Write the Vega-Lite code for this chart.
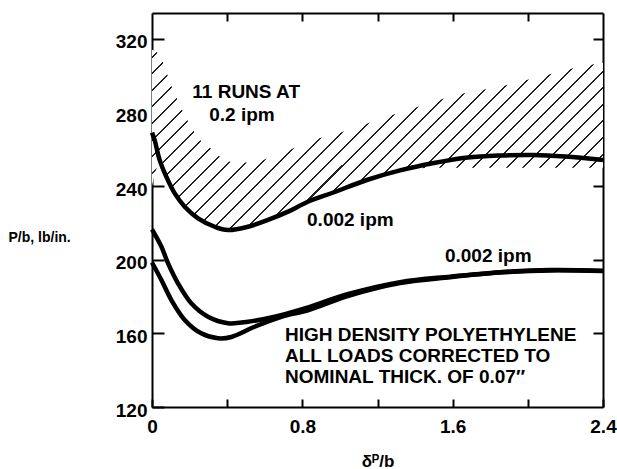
{
  "$schema": "https://vega.github.io/schema/vega-lite/v6.json",
  "width": 451,
  "height": 394,
  "autosize": "none",
  "padding": {"left": 152, "top": 13, "right": 14, "bottom": 62},
  "background": "white",
  "config": {
    "view": {"stroke": null},
    "font": "Liberation Sans",
    "axis": {
      "domainColor": "black", "domainWidth": 2, "tickColor": "black", "tickWidth": 2,
      "grid": false, "labelColor": "black", "labelFont": "Liberation Sans", "labelFontWeight": "bold", "labelFontSize": 19,
      "titleColor": "black", "titleFont": "Liberation Sans", "titleFontWeight": "bold"
    }
  },
  "datasets": {
    "band": [
      {"x": 0, "upper": 314, "lower": 240},
      {"x": 0.04, "upper": 311, "lower": 252},
      {"x": 0.105, "upper": 294, "lower": 239},
      {"x": 0.21, "upper": 272, "lower": 224.5},
      {"x": 0.256, "upper": 265, "lower": 222},
      {"x": 0.318, "upper": 260, "lower": 218.3},
      {"x": 0.39, "upper": 254, "lower": 216.3},
      {"x": 0.47, "upper": 252.6, "lower": 217},
      {"x": 0.558, "upper": 253.4, "lower": 219.5},
      {"x": 0.709, "upper": 258.7, "lower": 226.2},
      {"x": 0.86, "upper": 265, "lower": 232.5},
      {"x": 1.0, "upper": 269, "lower": 237.5},
      {"x": 1.23, "upper": 277, "lower": 245},
      {"x": 1.36, "upper": 281.3, "lower": 248.5},
      {"x": 1.48, "upper": 285.1, "lower": 250},
      {"x": 1.62, "upper": 289.4, "lower": 250},
      {"x": 1.84, "upper": 293.8, "lower": 250},
      {"x": 2.06, "upper": 299.2, "lower": 250},
      {"x": 2.27, "upper": 304.7, "lower": 250},
      {"x": 2.4, "upper": 306.8, "lower": 250}
    ],
    "curves": [
      {"curve": "top", "x": 0, "y": 269},
      {"curve": "top", "x": 0.014, "y": 265},
      {"curve": "top", "x": 0.041, "y": 254.1},
      {"curve": "top", "x": 0.076, "y": 245.1},
      {"curve": "top", "x": 0.121, "y": 236.0},
      {"curve": "top", "x": 0.174, "y": 228.8},
      {"curve": "top", "x": 0.245, "y": 222.5},
      {"curve": "top", "x": 0.334, "y": 217.9},
      {"curve": "top", "x": 0.404, "y": 216.1},
      {"curve": "top", "x": 0.511, "y": 217.9},
      {"curve": "top", "x": 0.617, "y": 221.6},
      {"curve": "top", "x": 0.724, "y": 226.1},
      {"curve": "top", "x": 0.83, "y": 231.5},
      {"curve": "top", "x": 0.965, "y": 236.5},
      {"curve": "top", "x": 1.143, "y": 243.3},
      {"curve": "top", "x": 1.32, "y": 248.5},
      {"curve": "top", "x": 1.5, "y": 252.5},
      {"curve": "top", "x": 1.68, "y": 255.5},
      {"curve": "top", "x": 1.85, "y": 256.6},
      {"curve": "top", "x": 2.03, "y": 256.9},
      {"curve": "top", "x": 2.2, "y": 256},
      {"curve": "top", "x": 2.4, "y": 254.2},
      {"curve": "A", "x": 0, "y": 216.5},
      {"curve": "A", "x": 0.05, "y": 207.1},
      {"curve": "A", "x": 0.085, "y": 198.1},
      {"curve": "A", "x": 0.138, "y": 187.2},
      {"curve": "A", "x": 0.209, "y": 176.3},
      {"curve": "A", "x": 0.298, "y": 169.0},
      {"curve": "A", "x": 0.404, "y": 165.5},
      {"curve": "A", "x": 0.511, "y": 166.3},
      {"curve": "A", "x": 0.653, "y": 169.0},
      {"curve": "A", "x": 0.795, "y": 173.0},
      {"curve": "A", "x": 1.05, "y": 181.5},
      {"curve": "A", "x": 1.32, "y": 187.8},
      {"curve": "A", "x": 1.586, "y": 190.8},
      {"curve": "A", "x": 1.852, "y": 193.2},
      {"curve": "A", "x": 2.118, "y": 194.4},
      {"curve": "A", "x": 2.4, "y": 194.0},
      {"curve": "B", "x": 0, "y": 198.5},
      {"curve": "B", "x": 0.05, "y": 189},
      {"curve": "B", "x": 0.103, "y": 178.1},
      {"curve": "B", "x": 0.174, "y": 167.3},
      {"curve": "B", "x": 0.262, "y": 160},
      {"curve": "B", "x": 0.351, "y": 157.3},
      {"curve": "B", "x": 0.422, "y": 158.0},
      {"curve": "B", "x": 0.546, "y": 163.6},
      {"curve": "B", "x": 0.688, "y": 169},
      {"curve": "B", "x": 0.83, "y": 172.5},
      {"curve": "B", "x": 1.05, "y": 180.5},
      {"curve": "B", "x": 1.32, "y": 187.3},
      {"curve": "B", "x": 1.586, "y": 190.5},
      {"curve": "B", "x": 1.852, "y": 193},
      {"curve": "B", "x": 2.118, "y": 194.2},
      {"curve": "B", "x": 2.4, "y": 193.8}
    ],
    "centerText": [
      {"x": 0.501, "y": 291.1, "text": "11 RUNS AT"},
      {"x": 0.479, "y": 278.6, "text": "0.2 ipm"}
    ],
    "leftText": [
      {"x": 0.825, "y": 221.6, "text": "0.002 ipm"},
      {"x": 1.559, "y": 202.2, "text": "0.002 ipm"},
      {"x": 0.708, "y": 159.1, "text": "HIGH DENSITY POLYETHYLENE"},
      {"x": 0.708, "y": 147.7, "text": "ALL LOADS CORRECTED TO"},
      {"x": 0.708, "y": 136.3, "text": "NOMINAL THICK. OF 0.07″"}
    ]
  },
  "resolve": {"axis": {"x": "independent", "y": "independent"}},
  "layer": [
    {
      "data": {"name": "band"},
      "mark": {
        "type": "area", "interpolate": "monotone",
        "fill": {
          "gradient": "linear", "x1": 0, "y1": 0, "x2": 1.207, "y2": 0.4816,
          "stops": [
            {"offset": 0, "color": "white"},
            {"offset": 0.0100, "color": "white"}, {"offset": 0.0100, "color": "#222"}, {"offset": 0.0132, "color": "#222"}, {"offset": 0.0132, "color": "white"},
            {"offset": 0.0363, "color": "white"}, {"offset": 0.0363, "color": "#222"}, {"offset": 0.0395, "color": "#222"}, {"offset": 0.0395, "color": "white"},
            {"offset": 0.0626, "color": "white"}, {"offset": 0.0626, "color": "#222"}, {"offset": 0.0658, "color": "#222"}, {"offset": 0.0658, "color": "white"},
            {"offset": 0.0889, "color": "white"}, {"offset": 0.0889, "color": "#222"}, {"offset": 0.0921, "color": "#222"}, {"offset": 0.0921, "color": "white"},
            {"offset": 0.1153, "color": "white"}, {"offset": 0.1153, "color": "#222"}, {"offset": 0.1185, "color": "#222"}, {"offset": 0.1185, "color": "white"},
            {"offset": 0.1416, "color": "white"}, {"offset": 0.1416, "color": "#222"}, {"offset": 0.1448, "color": "#222"}, {"offset": 0.1448, "color": "white"},
            {"offset": 0.1679, "color": "white"}, {"offset": 0.1679, "color": "#222"}, {"offset": 0.1711, "color": "#222"}, {"offset": 0.1711, "color": "white"},
            {"offset": 0.1942, "color": "white"}, {"offset": 0.1942, "color": "#222"}, {"offset": 0.1974, "color": "#222"}, {"offset": 0.1974, "color": "white"},
            {"offset": 0.2205, "color": "white"}, {"offset": 0.2205, "color": "#222"}, {"offset": 0.2237, "color": "#222"}, {"offset": 0.2237, "color": "white"},
            {"offset": 0.2468, "color": "white"}, {"offset": 0.2468, "color": "#222"}, {"offset": 0.2500, "color": "#222"}, {"offset": 0.2500, "color": "white"},
            {"offset": 0.2732, "color": "white"}, {"offset": 0.2732, "color": "#222"}, {"offset": 0.2764, "color": "#222"}, {"offset": 0.2764, "color": "white"},
            {"offset": 0.2995, "color": "white"}, {"offset": 0.2995, "color": "#222"}, {"offset": 0.3027, "color": "#222"}, {"offset": 0.3027, "color": "white"},
            {"offset": 0.3258, "color": "white"}, {"offset": 0.3258, "color": "#222"}, {"offset": 0.3290, "color": "#222"}, {"offset": 0.3290, "color": "white"},
            {"offset": 0.3521, "color": "white"}, {"offset": 0.3521, "color": "#222"}, {"offset": 0.3553, "color": "#222"}, {"offset": 0.3553, "color": "white"},
            {"offset": 0.3784, "color": "white"}, {"offset": 0.3784, "color": "#222"}, {"offset": 0.3816, "color": "#222"}, {"offset": 0.3816, "color": "white"},
            {"offset": 0.4047, "color": "white"}, {"offset": 0.4047, "color": "#222"}, {"offset": 0.4079, "color": "#222"}, {"offset": 0.4079, "color": "white"},
            {"offset": 0.4311, "color": "white"}, {"offset": 0.4311, "color": "#222"}, {"offset": 0.4343, "color": "#222"}, {"offset": 0.4343, "color": "white"},
            {"offset": 0.4574, "color": "white"}, {"offset": 0.4574, "color": "#222"}, {"offset": 0.4606, "color": "#222"}, {"offset": 0.4606, "color": "white"},
            {"offset": 0.4837, "color": "white"}, {"offset": 0.4837, "color": "#222"}, {"offset": 0.4869, "color": "#222"}, {"offset": 0.4869, "color": "white"},
            {"offset": 0.5100, "color": "white"}, {"offset": 0.5100, "color": "#222"}, {"offset": 0.5132, "color": "#222"}, {"offset": 0.5132, "color": "white"},
            {"offset": 0.5363, "color": "white"}, {"offset": 0.5363, "color": "#222"}, {"offset": 0.5395, "color": "#222"}, {"offset": 0.5395, "color": "white"},
            {"offset": 0.5626, "color": "white"}, {"offset": 0.5626, "color": "#222"}, {"offset": 0.5658, "color": "#222"}, {"offset": 0.5658, "color": "white"},
            {"offset": 0.5889, "color": "white"}, {"offset": 0.5889, "color": "#222"}, {"offset": 0.5921, "color": "#222"}, {"offset": 0.5921, "color": "white"},
            {"offset": 0.6153, "color": "white"}, {"offset": 0.6153, "color": "#222"}, {"offset": 0.6185, "color": "#222"}, {"offset": 0.6185, "color": "white"},
            {"offset": 0.6416, "color": "white"}, {"offset": 0.6416, "color": "#222"}, {"offset": 0.6448, "color": "#222"}, {"offset": 0.6448, "color": "white"},
            {"offset": 0.6679, "color": "white"}, {"offset": 0.6679, "color": "#222"}, {"offset": 0.6711, "color": "#222"}, {"offset": 0.6711, "color": "white"},
            {"offset": 0.6942, "color": "white"}, {"offset": 0.6942, "color": "#222"}, {"offset": 0.6974, "color": "#222"}, {"offset": 0.6974, "color": "white"},
            {"offset": 0.7205, "color": "white"}, {"offset": 0.7205, "color": "#222"}, {"offset": 0.7237, "color": "#222"}, {"offset": 0.7237, "color": "white"},
            {"offset": 0.7468, "color": "white"}, {"offset": 0.7468, "color": "#222"}, {"offset": 0.7500, "color": "#222"}, {"offset": 0.7500, "color": "white"},
            {"offset": 0.7732, "color": "white"}, {"offset": 0.7732, "color": "#222"}, {"offset": 0.7764, "color": "#222"}, {"offset": 0.7764, "color": "white"},
            {"offset": 0.7995, "color": "white"}, {"offset": 0.7995, "color": "#222"}, {"offset": 0.8027, "color": "#222"}, {"offset": 0.8027, "color": "white"},
            {"offset": 0.8258, "color": "white"}, {"offset": 0.8258, "color": "#222"}, {"offset": 0.8290, "color": "#222"}, {"offset": 0.8290, "color": "white"},
            {"offset": 0.8521, "color": "white"}, {"offset": 0.8521, "color": "#222"}, {"offset": 0.8553, "color": "#222"}, {"offset": 0.8553, "color": "white"},
            {"offset": 0.8784, "color": "white"}, {"offset": 0.8784, "color": "#222"}, {"offset": 0.8816, "color": "#222"}, {"offset": 0.8816, "color": "white"},
            {"offset": 0.9047, "color": "white"}, {"offset": 0.9047, "color": "#222"}, {"offset": 0.9079, "color": "#222"}, {"offset": 0.9079, "color": "white"},
            {"offset": 0.9311, "color": "white"}, {"offset": 0.9311, "color": "#222"}, {"offset": 0.9343, "color": "#222"}, {"offset": 0.9343, "color": "white"},
            {"offset": 0.9574, "color": "white"}, {"offset": 0.9574, "color": "#222"}, {"offset": 0.9606, "color": "#222"}, {"offset": 0.9606, "color": "white"},
            {"offset": 0.9837, "color": "white"}, {"offset": 0.9837, "color": "#222"}, {"offset": 0.9869, "color": "#222"}, {"offset": 0.9869, "color": "white"},
            {"offset": 1, "color": "white"}
          ]
        }
      },
      "encoding": {
        "x": {"field": "x", "type": "quantitative", "scale": {"domain": [0, 2.4], "nice": false, "zero": false},
          "axis": {"orient": "bottom", "values": [0, 0.4, 0.8, 1.2, 1.6, 2.0, 2.4], "format": "~g", "tickSize": -8,
            "labelExpr": "datum.value == 0 || datum.value == 0.8 || datum.value == 1.6 || datum.value == 2.4 ? datum.label : ''",
            "labelPadding": 18, "labelFlush": false, "labelOverlap": false,
            "title": "δᴾ/b", "titleFontSize": 17, "titleY": 59, "titleBaseline": "alphabetic"}},
        "y": {"field": "upper", "type": "quantitative", "scale": {"domain": [120, 334], "nice": false, "zero": false},
          "axis": {"orient": "left", "values": [120, 160, 200, 240, 280, 320], "tickSize": -12, "labelPadding": 17,
            "labelOffset": 3, "labelFlush": false, "labelOverlap": false,
            "title": "P/b, lb/in.", "titleAngle": 0, "titleAlign": "left", "titleBaseline": "middle", "titleFontSize": 14,
            "titleX": -144, "titleY": 224}},
        "y2": {"field": "lower"}
      }
    },
    {
      "data": {"name": "curves"},
      "mark": {"type": "line", "interpolate": "catmull-rom", "color": "black", "strokeWidth": 4.5},
      "encoding": {
        "x": {"field": "x", "type": "quantitative", "scale": {"domain": [0, 2.4], "nice": false, "zero": false},
          "axis": {"orient": "top", "values": [0.4, 0.8, 1.2, 1.6, 2.0], "tickSize": -8, "labels": false, "title": null}},
        "y": {"field": "y", "type": "quantitative", "scale": {"domain": [120, 334], "nice": false, "zero": false},
          "axis": {"orient": "right", "values": [160, 200, 240, 280, 320], "tickSize": -10, "labels": false, "title": null}},
        "detail": {"field": "curve"}
      }
    },
    {
      "data": {"name": "centerText"},
      "mark": {"type": "text", "align": "center", "baseline": "middle", "font": "Liberation Sans", "fontWeight": "bold", "fontSize": 19, "color": "black"},
      "encoding": {
        "x": {"field": "x", "type": "quantitative", "axis": null},
        "y": {"field": "y", "type": "quantitative", "axis": null},
        "text": {"field": "text"}
      }
    },
    {
      "data": {"name": "leftText"},
      "mark": {"type": "text", "align": "left", "baseline": "middle", "font": "Liberation Sans", "fontWeight": "bold", "fontSize": 19, "color": "black"},
      "encoding": {
        "x": {"field": "x", "type": "quantitative", "axis": null},
        "y": {"field": "y", "type": "quantitative", "axis": null},
        "text": {"field": "text"}
      }
    }
  ]
}
